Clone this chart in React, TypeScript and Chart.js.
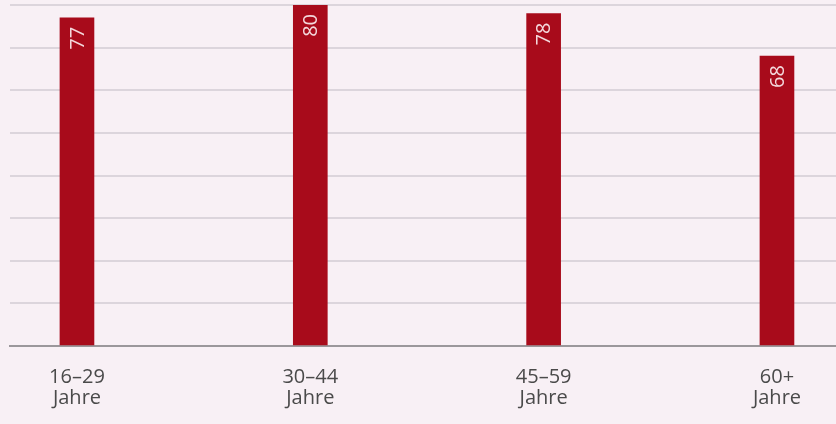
import React, { useEffect, useRef } from "react";
import { Chart, registerables } from "chart.js";

Chart.register(...registerables);

const categories: string[][] = [["16–29", "Jahre"], ["30–44", "Jahre"], ["45–59", "Jahre"], ["60+", "Jahre"]];
const values: number[] = [77, 80, 78, 68];
const yTicks: number[] = [0, 10, 20, 30, 40, 50, 60, 70, 80];

const BG = "#f8f0f5";
const BAR = "#a80b1b";

const labelPlugin = {
  id: "barLabels",
  afterDatasetsDraw(chart: any) {
    const ctx = chart.ctx;
    const meta = chart.getDatasetMeta(0);
    ctx.save();
    ctx.fillStyle = "#f4d8dc";
    ctx.font = "20px 'Open Sans'";
    ctx.textAlign = "right";
    ctx.textBaseline = "middle";
    meta.data.forEach((bar: any, i: number) => {
      ctx.save();
      ctx.translate(bar.x + 1, bar.y + 9);
      ctx.rotate(-Math.PI / 2);
      ctx.fillText(String(values[i]), 0, 0);
      ctx.restore();
    });
    ctx.restore();
  },
};

const bgPlugin = {
  id: "bg",
  beforeDraw(chart: any) {
    const ctx = chart.ctx;
    ctx.save();
    ctx.fillStyle = BG;
    ctx.fillRect(0, 0, chart.width, chart.height);
    ctx.restore();
  },
};

export default function App() {
  const ref = useRef<HTMLCanvasElement>(null);
  useEffect(() => {
    document.body.style.margin = "0";
    document.body.style.background = BG;
    const chart = new Chart(ref.current!, {
      type: "bar",
      data: {
        datasets: [
          {
            data: values.map((v, i) => ({ x: i, y: v })),
            backgroundColor: BAR,
            barThickness: 34,
          },
        ],
      },
      options: {
        animation: false,
        responsive: false,
        maintainAspectRatio: false,
        layout: { padding: { left: 10, top: 5, right: 0, bottom: 0 } },
        plugins: { legend: { display: false }, tooltip: { enabled: false } },
        scales: {
          x: {
            type: "linear",
            offset: false,
            min: -0.287,
            max: 3.253,
            grid: { display: false, drawTicks: false, offset: false },
            border: { display: true, color: "#9b979b", width: 2 },
            afterBuildTicks(scale: any) {
              scale.ticks = [0, 1, 2, 3].map((v) => ({ value: v }));
            },
            afterFit(scale: any) {
              scale.height = 78;
            },
            ticks: {
              autoSkip: false,
              maxRotation: 0,
              padding: 21,
              color: "#4a4a4a",
              font: { family: "'Open Sans'", size: 20, lineHeight: 1.05 },
              callback: (v: any) => categories[Math.round(Number(v))] ?? "",
            },
          },
          y: {
            min: 0,
            max: 80,
            afterBuildTicks(scale: any) {
              scale.ticks = yTicks.map((v) => ({ value: v }));
            },
            afterFit(scale: any) {
              scale.width = 0;
            },
            grid: { color: "#dcd5dc", lineWidth: 2, drawTicks: false },
            border: { display: false },
            ticks: { display: false },
          },
        },
      },
      plugins: [bgPlugin, labelPlugin],
    });
    return () => chart.destroy();
  }, []);
  return (
    <div style={{ position: "absolute", left: 0, top: 0, width: 836, height: 424, background: BG }}>
      <canvas ref={ref} width={836} height={424} style={{ display: "block" }} />
    </div>
  );
}
